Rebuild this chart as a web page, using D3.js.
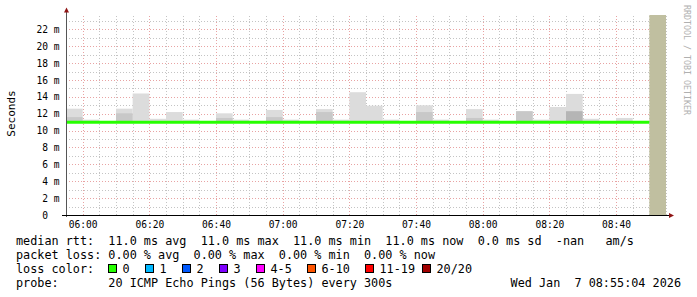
<!DOCTYPE html>
<html lang="en">
<head>
<meta charset="UTF-8">
<script src="https://d3js.org/d3.v7.min.js"></script>
<title>smokeping</title>
<style>
    body { margin: 0; background: #fff; }
    svg text { font-family: "DejaVu Sans Mono", monospace; white-space: pre; }
    .grid line { shape-rendering: crispEdges; stroke-dasharray: 1,2; }
    .grid .domain { display: none; }
</style>
</head>
<body>
<div class="graph"></div>
<script>
    // 5-minute slots from 05:55 to 08:50 (last slot has no data)
    var startTime = new Date(2026, 0, 7, 5, 55),
        endTime = new Date(2026, 0, 7, 8, 55),
        unknownSlot = new Date(2026, 0, 7, 8, 50);

    // ms values per slot (35 slots with data)
    var medianRtt = [11.0, 11.0, 11.0, 11.0, 11.0, 11.0, 11.0, 11.0, 11.0, 11.0,
                     11.0, 11.0, 11.0, 11.0, 11.0, 11.0, 11.0, 11.0, 11.0, 11.0,
                     11.0, 11.0, 11.0, 11.0, 11.0, 11.0, 11.0, 11.0, 11.0, 11.0,
                     11.0, 11.0, 11.0, 11.0, 11.0];
    var smokeMax = [12.6, 11.3, 11.0, 12.6, 14.4, 11.4, 12.2, 11.3, 11.0, 12.05,
                    11.3, 11.0, 12.45, 11.3, 11.0, 12.55, 11.3, 14.55, 12.95, 11.3,
                    11.0, 13.0, 11.3, 11.0, 12.55, 11.3, 11.0, 12.3, 11.3, 12.8,
                    14.35, 11.4, 11.0, 11.5, 11.0];
    var smokeMid = [11.6, 11.0, 11.0, 12.05, 11.0, 11.0, 11.0, 11.0, 11.0, 11.5,
                    11.0, 11.0, 11.6, 11.0, 11.0, 12.2, 11.0, 11.0, 11.0, 11.0,
                    11.0, 12.2, 11.0, 11.0, 11.5, 11.0, 11.0, 12.3, 11.0, 11.0,
                    11.0, 11.0, 11.0, 11.0, 11.0];
    var smokeLow = [11.0, 11.0, 11.0, 11.0, 11.0, 11.0, 11.0, 11.0, 11.0, 11.0,
                    11.0, 11.0, 11.0, 11.0, 11.0, 11.0, 11.0, 11.0, 11.0, 11.0,
                    11.0, 11.0, 11.0, 11.0, 11.0, 11.0, 11.0, 11.0, 11.0, 11.0,
                    12.3, 11.0, 11.0, 11.0, 11.0];

    var yTicks = [0, 2, 4, 6, 8, 10, 12, 14, 16, 18, 20, 22];
    var lossLabels = ["0", "1", "2", "3", "4-5", "6-10", "11-19", "20/20"];
    var lossColors = ["#26ff00", "#00b8ff", "#0059ff", "#7e00ff", "#ff00ff", "#ff5500", "#ff0000", "#a10000"];
    var legendLines = [
        "median rtt:  11.0 ms avg  11.0 ms max  11.0 ms min  11.0 ms now  0.0 ms sd  -nan   am/s",
        "packet loss: 0.00 % avg  0.00 % max  0.00 % min  0.00 % now",
        "loss color:",
        "probe:       20 ICMP Echo Pings (56 Bytes) every 300s"
    ];
    var dateStamp = "Wed Jan  7 08:55:04 2026";

    var W = 697, H = 297,
        plot = { left: 66, right: 666, top: 15, bottom: 215 };

    var svg = d3.select(".graph").append("svg")
        .attr("width", W)
        .attr("height", H);

    var x = d3.scaleTime().domain([startTime, endTime]).range([plot.left, plot.right]);
    var y = d3.scaleLinear().domain([0, 23.7]).range([plot.bottom, plot.top]);

    var slots = d3.timeMinute.every(5).range(startTime, unknownSlot);
    var step = 5 * 60 * 1000;

    // minor grid
    svg.append("g").attr("class", "grid")
        .attr("transform", "translate(0," + plot.bottom + ")")
        .call(d3.axisBottom(x).ticks(d3.timeMinute.every(5)).tickSize(-(plot.bottom - plot.top)).tickFormat(""))
        .selectAll("line").attr("stroke", "#c4c4c4");
    svg.append("g").attr("class", "grid")
        .attr("transform", "translate(" + plot.left + ",0)")
        .call(d3.axisLeft(y).ticks(23).tickSize(-(plot.right - plot.left)).tickFormat(""))
        .selectAll("line").attr("stroke", "#c4c4c4");
    // major grid
    svg.append("g").attr("class", "grid")
        .attr("transform", "translate(0," + plot.bottom + ")")
        .call(d3.axisBottom(x).ticks(d3.timeMinute.every(20)).tickSize(-(plot.bottom - plot.top)).tickFormat(""))
        .selectAll("line").attr("stroke", "#e8a3a3");
    svg.append("g").attr("class", "grid")
        .attr("transform", "translate(" + plot.left + ",0)")
        .call(d3.axisLeft(y).tickValues(yTicks.slice(1)).tickSize(-(plot.right - plot.left)).tickFormat(""))
        .selectAll("line").attr("stroke", "#e8a3a3");

    // smoke
    function smoke(values, colour) {
        svg.append("g").selectAll("rect")
            .data(values)
            .enter().append("rect")
            .attr("x", function (d, i) { return x(slots[i]); })
            .attr("width", function (d, i) { return x(new Date(+slots[i] + step)) - x(slots[i]); })
            .attr("y", function (d) { return y(d); })
            .attr("height", function (d) { return Math.max(0, y(10.9) - y(d)); })
            .attr("fill", colour);
    }
    smoke(smokeMax, "#dcdcdc");
    smoke(smokeMid, "#c8c8c8");
    smoke(smokeLow, "#b5b5b5");

    // unknown data
    svg.append("rect")
        .attr("x", x(unknownSlot))
        .attr("width", x(endTime) - x(unknownSlot))
        .attr("y", plot.top)
        .attr("height", plot.bottom - plot.top)
        .attr("fill", "#c0bfa0");

    // median line
    var line = d3.line()
        .x(function (d, i) { return x(i < medianRtt.length ? slots[i] : unknownSlot); })
        .y(function (d) { return y(d); })
        .curve(d3.curveStepAfter);
    svg.append("path")
        .datum(medianRtt.concat([medianRtt[medianRtt.length - 1]]))
        .attr("d", line)
        .attr("fill", "none")
        .attr("stroke", lossColors[0])
        .attr("stroke-width", 3);

    // axes
    svg.append("line")
        .attr("x1", plot.left + 0.5).attr("x2", plot.left + 0.5).attr("y1", 10).attr("y2", plot.bottom + 2)
        .attr("stroke", "#555");
    svg.append("line")
        .attr("x1", plot.left - 4).attr("x2", 670).attr("y1", plot.bottom + 0.5).attr("y2", plot.bottom + 0.5)
        .attr("stroke", "#000");
    svg.append("path").attr("d", "M64,12.5L66.5,7.5L69,12.5Z").attr("fill", "#8f1414");
    svg.append("path").attr("d", "M669,213L674,215.5L669,218Z").attr("fill", "#8f1414");

    var xAxis = svg.append("g")
        .attr("transform", "translate(0," + plot.bottom + ")")
        .call(d3.axisBottom(x).ticks(d3.timeMinute.every(20)).tickSize(0).tickPadding(6)
            .tickFormat(d3.timeFormat("%H:%M")));
    xAxis.select(".domain").remove();
    xAxis.selectAll("text").attr("font-family", "DejaVu Sans Mono").attr("font-size", "9.6px").attr("fill", "#000");

    var yAxis = svg.append("g")
        .attr("transform", "translate(59.5,0)")
        .call(d3.axisLeft(y).tickValues(yTicks).tickSize(0).tickPadding(0)
            .tickFormat(function (d) { return d === 0 ? "0  " : d + " m"; }));
    yAxis.select(".domain").remove();
    yAxis.selectAll("text").attr("font-family", "DejaVu Sans Mono").attr("font-size", "9.6px").attr("fill", "#000")
        .attr("xml:space", "preserve");

    svg.append("text")
        .attr("transform", "translate(15,113.5) rotate(-90)")
        .attr("text-anchor", "middle")
        .attr("font-size", "11px")
        .text("Seconds");

    svg.append("text")
        .attr("transform", "translate(684,5) rotate(90)")
        .attr("font-size", "8.3px")
        .attr("fill", "#b0b0b0")
        .text("RRDTOOL / TOBI OETIKER");

    // legend
    var rowY = [245, 259, 273, 287];
    svg.append("g").selectAll("text")
        .data(legendLines)
        .enter().append("text")
        .attr("x", 16)
        .attr("y", function (d, i) { return rowY[i]; })
        .attr("font-size", "11.8px")
        .attr("xml:space", "preserve")
        .text(function (d) { return d; });

    var boxX = [108.5, 145.5, 182.5, 219.5, 256.5, 307.5, 365.5, 422.5];
    var lc = svg.append("g").selectAll("g")
        .data(lossLabels)
        .enter().append("g")
        .attr("transform", function (d, i) { return "translate(" + boxX[i] + ",264.5)"; });
    lc.append("rect")
        .attr("width", 8).attr("height", 8)
        .attr("fill", function (d, i) { return lossColors[i]; })
        .attr("stroke", "#000");
    lc.append("text")
        .attr("x", 14).attr("y", 8.5)
        .attr("font-size", "11.8px")
        .text(function (d) { return d; });

    svg.append("text")
        .attr("x", 681).attr("y", rowY[3])
        .attr("text-anchor", "end")
        .attr("font-size", "11.8px")
        .attr("xml:space", "preserve")
        .text(dateStamp);
</script>
</body>
</html>
